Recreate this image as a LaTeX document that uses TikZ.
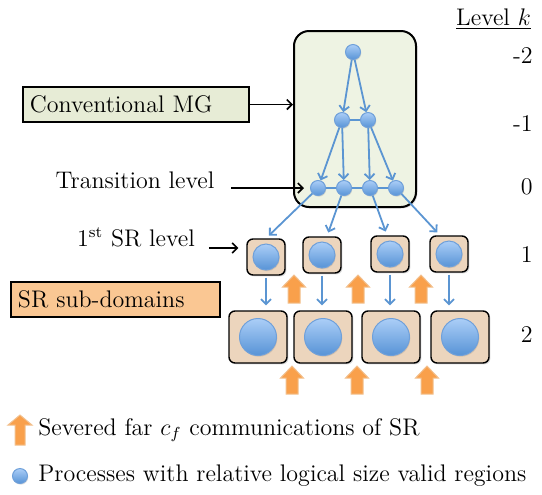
\documentclass[tikz,border=0pt]{standalone}
\usepackage{tikz}
\usetikzlibrary{positioning}
\usetikzlibrary{arrows.meta}
\usetikzlibrary{shadows}
\usetikzlibrary{calc}
\usepackage{xcolor}

\definecolor{mggreen}{HTML}{EEF3E3}
\definecolor{mglabel}{HTML}{E7ECD6}
\definecolor{srbox}{HTML}{ECD5BD}
\definecolor{srlabel}{HTML}{FAC793}
\definecolor{proctop}{HTML}{ABCEF7}
\definecolor{procbot}{HTML}{5793D6}
\definecolor{procline}{HTML}{6FA0DA}
\definecolor{linkblue}{HTML}{5B95D2}
\definecolor{sevorange}{HTML}{F9A04B}
\definecolor{sevline}{HTML}{F2C08E}

\tikzset{
  proc/.style={circle, draw=procline, line width=0.5pt, top color=proctop,
    bottom color=procbot, inner sep=0pt, minimum size=#1,
    drop shadow={shadow xshift=0.4pt, shadow yshift=-0.6pt, opacity=0.25}},
  link/.style={linkblue, line width=0.9pt},
  feed/.style={link, -{Straight Barb[length=2.5pt,width=5pt]}},
  pointer/.style={black, line width=0.8pt, -{Straight Barb[length=2.5pt,width=5pt]}},
  subdom/.style={draw=black, line width=0.7pt, fill=srbox, rounded corners=3pt,
    drop shadow={shadow xshift=0.7pt, shadow yshift=-0.7pt, opacity=0.3}},
  mgframe/.style={draw=black, line width=1pt, fill=mggreen, rounded corners=7.5pt,
    minimum width=61pt, minimum height=88pt,
    drop shadow={shadow xshift=0.7pt, shadow yshift=-0.7pt, opacity=0.3}},
  tagbox/.style={draw=black, line width=0.8pt, inner xsep=3.5pt, align=left,
    minimum height=17.5pt,
    drop shadow={shadow xshift=0.6pt, shadow yshift=-0.6pt, opacity=0.3}},
  severed/.style={fill=sevorange, draw=sevline, line width=0.5pt}
}

\begin{document}
\begin{tikzpicture}[x=0.5pt, y=-0.5pt, font=\fontsize{12}{14}\selectfont]
\useasboundingbox (0,0) rectangle (542,494);

% CONVENTIONAL MG %
%%%%%%%%%%%%  levels -2, -1, 0 %%%%%%%%%%%%%
\node[mgframe] (mgbox) at (355,119) {};

\node[proc=7.5pt] (top) at (353,52) {};
\node[proc=7.5pt] (m1a) at (342,120) {};
\node[proc=7.5pt] (m1b) at (368,120) {};
\foreach \n/\x in {a/318, b/344, c/370, d/396}
  \node[proc=7.5pt] (l0\n) at (\x,188) {};

\draw[feed] (top) -- (m1a);
\draw[feed] (top) -- (m1b);
\draw[link] (m1a) -- (m1b);
\foreach \s/\t in {m1a/l0a, m1a/l0b, m1b/l0c, m1b/l0d}
  \draw[feed] (\s) -- (\t);
\draw[link] (l0a) -- (l0b) (l0b) -- (l0c) (l0c) -- (l0d);

% SR %
%%%%%%%%%%%%  levels 1, 2 %%%%%%%%%%%%%
\foreach \n/\x/\y in {a/266/257, b/322/255, c/390/254, d/449/254}
{
  \node[subdom, minimum width=19pt, minimum height=18pt] (b1\n) at (\x,\y) {};
  \node[proc=13pt] (p1\n) at (b1\n) {};
}
\foreach \n/\x in {a/258, b/323, c/391, d/460}
{
  \node[subdom, minimum width=29pt, minimum height=26pt] (b2\n) at (\x,337) {};
  \node[proc=18.5pt] (p2\n) at (b2\n) {};
}

\foreach \n/\dx in {a/0, b/5, c/-3, d/-9}
  \draw[feed, shorten >=2pt] (l0\n) -- ([xshift=\dx*0.5pt]b1\n.north);
\foreach \n in {a,b,c,d}
  \draw[feed, shorten <=1pt, shorten >=2.5pt] (b1\n.south) -- (b1\n.south |- b2\n.north);

% severed far communications
\foreach \x/\y in {294/275, 358/275, 421/275, 292/366, 357/366, 427/366}
  \draw[severed] (\x,\y) -- ++(11.5,12) -- ++(-5.5,0) -- ++(0,16) -- ++(-12,0)
    -- ++(0,-16) -- ++(-5.5,0) -- cycle;

% labellings
{
\node[tagbox, fill=mglabel, text width=106pt] (cmg) at (136,104.5) {Conventional MG};
\draw[pointer] (cmg.east) -- (cmg.east -| mgbox.west);

\node (trans) at (135,180) {Transition level};
\draw[pointer, shorten >=3pt] ($(trans.east |- l0a)+(10,0)$) -- (l0a.west);

\node (srl) at (136,237) {1\textsuperscript{st} SR level};
\draw[pointer] ($(srl.east)+(7,11)$) -- ($(b1a.west)+(-8,-9)$);

\node[tagbox, fill=srlabel, text width=97.5pt] (subs) at (115.5,299.5) {SR sub-domains};

\node (lvl) at (493.5,19) {\underline{Level $k$}};
\foreach \k/\y/\n in {-2/56/a, -1/124/b, 0/187/c, 1/255/d, 2/335/e}
  \node[anchor=east, inner sep=0pt] (lv\n) at (533,\y) {\k};
}

% legend
{
\draw[severed] (20,415) -- ++(12,10) -- ++(-7,0) -- ++(0,20) -- ++(-10,0)
  -- ++(0,-20) -- ++(-7,0) -- cycle;
\node[anchor=west, inner sep=0pt] (sevtxt) at (38,430)
  {Severed far $c_f$ communications of SR};

\node[proc=7.5pt] (lgproc) at (20,476) {};
\node[anchor=west, inner sep=0pt] (proctxt) at (38,476)
  {Processes with relative logical size valid regions};
}

\end{tikzpicture}
\end{document}
